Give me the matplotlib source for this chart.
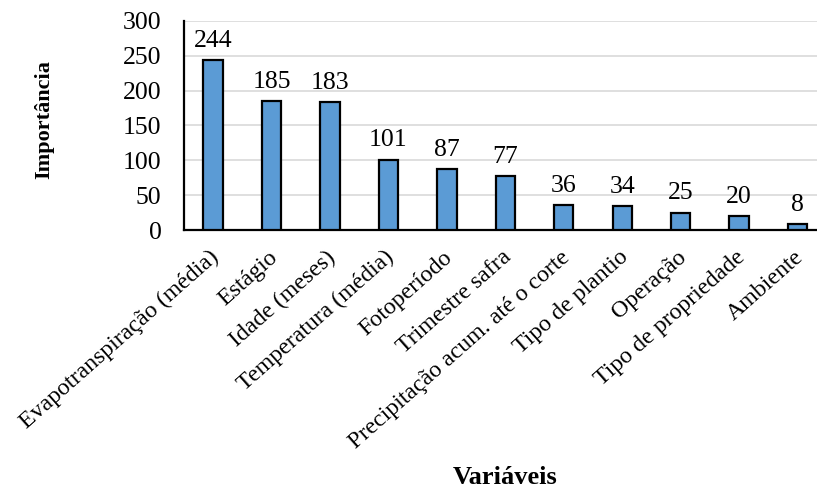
import matplotlib
matplotlib.use("Agg")
import matplotlib.pyplot as plt
from matplotlib.transforms import ScaledTranslation

categories = ["Evapotranspiração (média)", "Estágio", "Idade (meses)",
              "Temperatura (média)", "Fotoperíodo", "Trimestre safra",
              "Precipitação acum. até o corte", "Tipo de plantio", "Operação",
              "Tipo de propriedade", "Ambiente"]
importance = [244, 185, 183, 101, 87, 77, 36, 34, 25, 20, 8]
yticks = [0, 50, 100, 150, 200, 250, 300]

plt.rcParams["font.family"] = ["Liberation Serif", "DejaVu Serif"]

fig = plt.figure(figsize=(8.17, 4.9), dpi=100)
ax = fig.add_axes([0.225, 0.5306, 0.787, 0.4266])

x = list(range(len(categories)))
ax.bar(x, importance, width=0.33, color="#5B9BD5",
       edgecolor="black", linewidth=1.6, zorder=3)
for xi, v in zip(x, importance):
    ax.annotate(str(v), (xi, v), xytext=(0, 6), textcoords="offset points",
                ha="center", va="bottom", fontsize=18.5)

ax.set_xlim(-0.5, 10.5)
ax.set_ylim(0, 300)
ax.set_yticks(yticks)
ax.set_yticklabels([str(t) for t in yticks], fontsize=18.5)
ax.set_xticks(x)
ax.set_xticklabels(categories, rotation=41.5, ha="right", rotation_mode="anchor",
                   fontsize=17.2)
ax.tick_params(axis="both", length=0)
ax.tick_params(axis="y", pad=16)
ax.tick_params(axis="x", pad=12)
shift = ScaledTranslation(-4 / 100, 0, fig.dpi_scale_trans)
for lbl in ax.get_xticklabels():
    lbl.set_transform(lbl.get_transform() + shift)

ax.grid(axis="y", color="#D9D9D9", linewidth=1.2, zorder=0)
for s in ["top", "right"]:
    ax.spines[s].set_visible(False)
ax.spines["left"].set_linewidth(1.6)
ax.spines["bottom"].set_linewidth(1.6)

fig.text(0.054, 0.755, "Importância", rotation=90, ha="center", va="center",
         fontsize=16, fontweight="bold")
fig.text(0.618, 0.025, "Variáveis", ha="center", va="center",
         fontsize=19, fontweight="bold")

fig.savefig("out.png", dpi=100)
